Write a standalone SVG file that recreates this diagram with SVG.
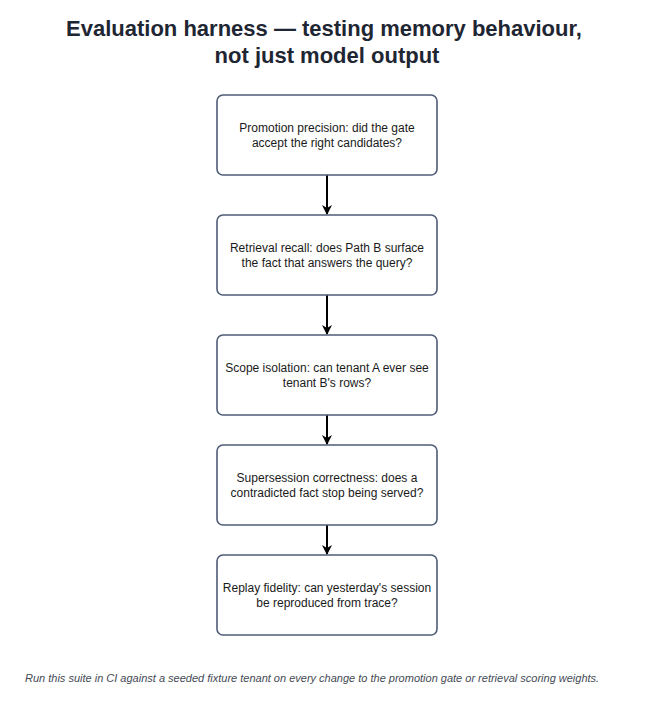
<svg xmlns="http://www.w3.org/2000/svg" width="647" height="708" viewBox="0 0 647 708">
<defs>
<style>
.node rect{fill:#ffffff;stroke:#4f5b76;stroke-width:1.6}
.node text{font-family:"Liberation Sans",Arial,sans-serif;font-size:12px;fill:#1a1a1a;text-anchor:middle}
.title{font-family:"Liberation Sans",Arial,sans-serif;font-size:22px;font-weight:bold;fill:#1f2633;text-anchor:middle}
.foot{font-family:"Liberation Sans",Arial,sans-serif;font-size:11px;font-style:italic;fill:#444a55}
.edge{stroke:#000;stroke-width:2;fill:none;marker-end:url(#arr)}
</style>
<marker id="arr" viewBox="0 0 10 10" refX="9" refY="5" markerWidth="5" markerHeight="5" orient="auto" markerUnits="strokeWidth">
<path d="M0,0 L10,5 L0,10 L3,5 Z" fill="#000"/>
</marker>
</defs>
<rect width="647" height="708" fill="#ffffff"/>
<text class="title" x="324" y="36">Evaluation harness — testing memory behaviour,</text>
<text class="title" x="327" y="63">not just model output</text>
<g id="connectors">
<line class="edge" x1="327" y1="175" x2="327" y2="214"/>
<line class="edge" x1="327" y1="295" x2="327" y2="334"/>
<line class="edge" x1="327" y1="415" x2="327" y2="444"/>
<line class="edge" x1="327" y1="525" x2="327" y2="554"/>
</g>
<g id="n1" class="node"><rect x="217" y="95" width="220" height="80" rx="6"/><text x="327" y="132">Promotion precision: did the gate</text><text x="327" y="147">accept the right candidates?</text></g>
<g id="n2" class="node"><rect x="217" y="215" width="220" height="80" rx="6"/><text x="327" y="252">Retrieval recall: does Path B surface</text><text x="327" y="267">the fact that answers the query?</text></g>
<g id="n3" class="node"><rect x="217" y="335" width="220" height="80" rx="6"/><text x="327" y="372">Scope isolation: can tenant A ever see</text><text x="327" y="387">tenant B's rows?</text></g>
<g id="n4" class="node"><rect x="217" y="445" width="220" height="80" rx="6"/><text x="327" y="482">Supersession correctness: does a</text><text x="327" y="497">contradicted fact stop being served?</text></g>
<g id="n5" class="node"><rect x="217" y="555" width="220" height="80" rx="6"/><text x="327" y="592">Replay fidelity: can yesterday's session</text><text x="327" y="607">be reproduced from trace?</text></g>
<text class="foot" x="25" y="682">Run this suite in CI against a seeded fixture tenant on every change to the promotion gate or retrieval scoring weights.</text>
</svg>
